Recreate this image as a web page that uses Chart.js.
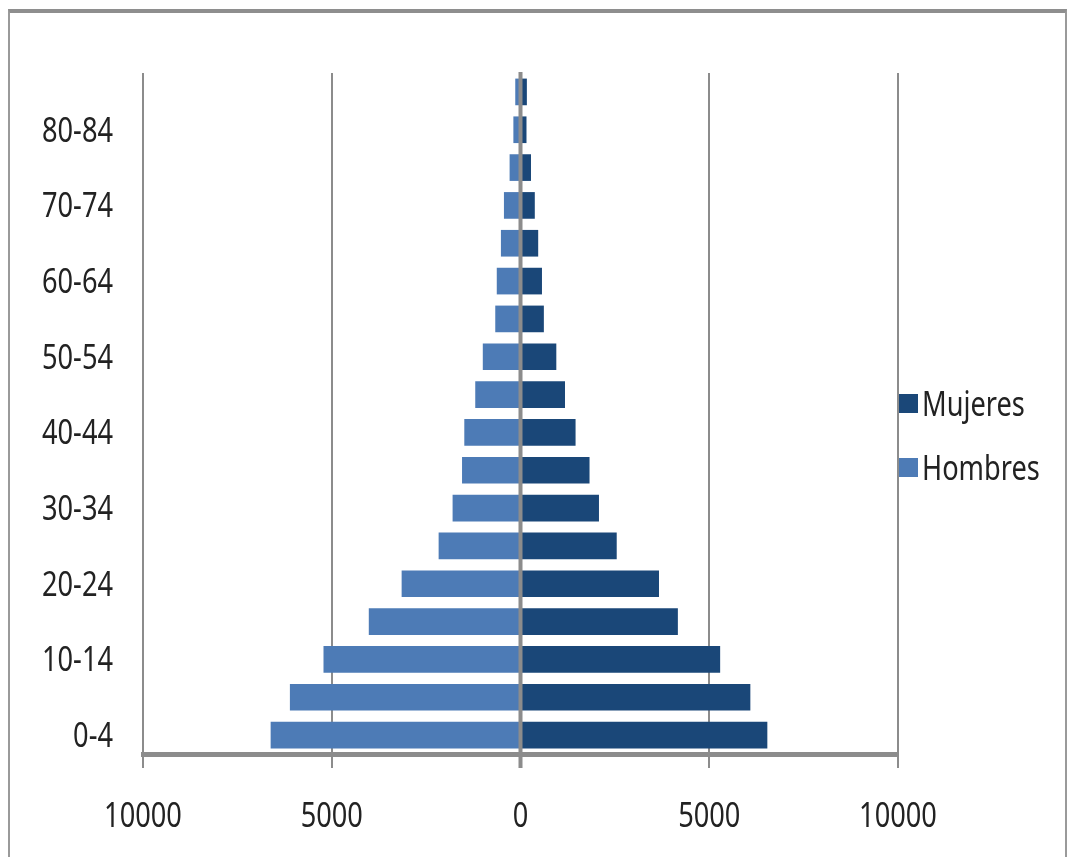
<!DOCTYPE html>
<html>
<head>
<meta charset="utf-8">
<script src="https://cdn.jsdelivr.net/npm/chart.js@4.4.1/dist/chart.umd.min.js"></script>
<style>
  html, body { margin: 0; padding: 0; background: #fff; }
  body { width: 1069px; height: 857px; position: relative; overflow: hidden;
         font-family: "Noto Sans", sans-serif; }
  #frame { position: absolute; left: 8px; top: 9px; width: 1059px; height: 870px; box-sizing: border-box;
           border-top: 4px solid #8e8e8e; border-left: 2px solid #9a9a9a; border-right: 2px solid #9a9a9a; }
  #chart { position: absolute; left: 0; top: 0; }
  .item { position: absolute; left: 899px; height: 40px; display: flex; align-items: center;
          white-space: nowrap; font-size: 34px; color: #222; }
  .box { width: 19px; height: 19px; margin-right: 4px; flex: none; }
  .txt { display: inline-block; transform: scaleX(0.8); transform-origin: left center; }
</style>
</head>
<body>
<div id="frame"></div>
<canvas id="chart" width="1069" height="857"></canvas>
<div id="legend"></div>
<script>
// age groups, youngest first (drawn bottom to top)
const ageGroups = ["0-4", "5-9", "10-14", "15-19", "20-24", "25-29", "30-34", "35-39", "40-44",
  "45-49", "50-54", "55-59", "60-64", "65-69", "70-74", "75-79", "80-84", "85+"];
const mujeres = [6530, 6080, 5280, 4160, 3660, 2540, 2070, 1820, 1450,
  1170, 940, 610, 560, 460, 370, 270, 150, 160];
const hombres = [6610, 6100, 5210, 4010, 3140, 2160, 1790, 1540, 1480,
  1190, 990, 660, 620, 510, 430, 280, 180, 130];
const xTicks = [-10000, -5000, 0, 5000, 10000];

const GRID = "#8c8c8c";
const SQUEEZE = 0.8; // original uses a condensed face

// tick labels drawn narrow, placed by the scales
const narrowLabels = {
  id: "narrowLabels",
  afterDraw(chart) {
    const ctx = chart.ctx;
    const { x, y } = chart.scales;
    const put = (text, px, py, align) => {
      ctx.save();
      ctx.translate(px, py);
      ctx.scale(SQUEEZE, 1);
      ctx.font = "34px 'Noto Sans', sans-serif";
      ctx.fillStyle = "#222";
      ctx.textAlign = align;
      ctx.textBaseline = "alphabetic";
      ctx.fillText(text, 0, 0);
      ctx.restore();
    };
    x.ticks.forEach((t) => put(String(Math.abs(t.value)), x.getPixelForValue(t.value), x.top + 73, "center"));
    ageGroups.forEach((g, i) => {
      if (i % 2 === 0) put(g, y.right - 30, y.getPixelForValue(i) + 12, "right");
    });
  },
};

// axis line at zero sits on top of the bars
const zeroLine = {
  id: "zeroLine",
  afterDatasetsDraw(chart) {
    const x = chart.scales.x.getPixelForValue(0);
    const { top, bottom } = chart.chartArea;
    const ctx = chart.ctx;
    ctx.save();
    ctx.strokeStyle = GRID;
    ctx.lineWidth = 4;
    ctx.beginPath();
    ctx.moveTo(x, top - 1);
    ctx.lineTo(x, bottom + 14);
    ctx.stroke();
    ctx.restore();
  }
};

const chart = new Chart(document.getElementById("chart").getContext("2d"), {
  type: "bar",
  data: {
    labels: ageGroups,
    datasets: [
      { label: "Mujeres", data: mujeres, backgroundColor: "#1a4778" },
      { label: "Hombres", data: hombres.map((v) => -v), backgroundColor: "#4d7bb6" },
    ],
  },
  options: {
    indexAxis: "y",
    responsive: false,
    animation: false,
    barThickness: 26,
    layout: { padding: { top: 73, right: 171, left: 0, bottom: 0 } },
    plugins: { legend: { display: false }, tooltip: { enabled: false } },
    scales: {
      x: {
        stacked: true,
        min: -10000,
        max: 10000,
        afterBuildTicks: (scale) => { scale.ticks = xTicks.map((v) => ({ value: v })); },
        afterFit: (scale) => { scale.height = 103; },
        grid: { color: GRID, lineWidth: 2, tickLength: 14, tickColor: GRID },
        border: { display: true, color: GRID, width: 5 },
        ticks: { display: false },
      },
      y: {
        stacked: true,
        reverse: true,
        afterFit: (scale) => { scale.width = 143; },
        grid: { display: false, drawTicks: false },
        border: { display: false },
        ticks: { display: false },
      },
    },
  },
  plugins: [zeroLine, narrowLabels],
});

// legend to the right of the plot
const legendTops = [383, 447];
chart.data.datasets.forEach((ds, i) => {
  const item = document.createElement("div");
  item.className = "item";
  item.style.top = legendTops[i] + "px";
  const box = document.createElement("span");
  box.className = "box";
  box.style.background = ds.backgroundColor;
  const txt = document.createElement("span");
  txt.className = "txt";
  txt.textContent = ds.label;
  item.appendChild(box);
  item.appendChild(txt);
  document.getElementById("legend").appendChild(item);
});
</script>
</body>
</html>
